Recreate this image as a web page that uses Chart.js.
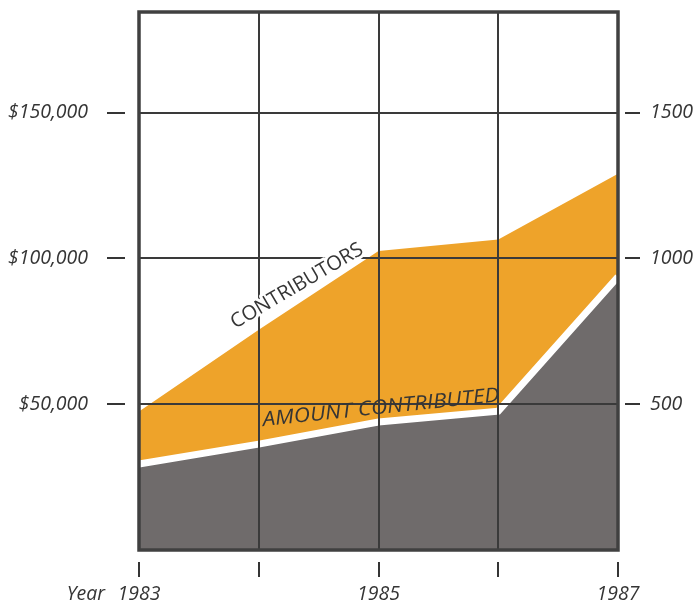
<!DOCTYPE html>
<html><head><meta charset="utf-8">
<script src="https://cdn.jsdelivr.net/npm/chart.js@4.4.0/dist/chart.umd.min.js"></script>
<style>html,body{margin:0;padding:0;background:#fff;overflow:hidden}#wrap{width:695px;height:604px}</style>
</head><body><div id="wrap"><canvas id="c" width="695" height="604"></canvas></div>
<script>
// ---- data ----
const years = ['1983', '1984', '1985', '1986', '1987'];
const yearLabels = ['1983', '', '1985', '', '1987'];
const amountContributed = [29500, 36300, 43900, 47600, 93700];   // dollars (left axis)
const contributors = [475, 755, 1025, 1065, 1290];                 // people (right axis)
const dollarTicks = [50000, 100000, 150000];
const dollarTickLabels = ['$50,000', '$100,000', '$150,000'];
const contributorTicks = [500, 1000, 1500];
const contributorTickLabels = ['500', '1000', '1500'];
const dollarMax = 184500;
const contributorMax = 1845;

const ORANGE = '#eea32a';
const GRAY = '#6f6b6b';
const INK = '#353535';
const GRID = '#3a3a3a';
const tickFont = { family: "'Open Sans', sans-serif", size: 19.5, style: 'italic' };

function drawFitted(ctx, text, cx, cy, angleDeg, targetW, font, halo) {
  ctx.save();
  ctx.font = font;
  ctx.textAlign = 'center';
  ctx.textBaseline = 'middle';
  const w = ctx.measureText(text).width;
  ctx.translate(cx, cy);
  ctx.rotate(angleDeg * Math.PI / 180);
  ctx.scale(targetW / w, 1);
  if (halo) {
    ctx.strokeStyle = '#fff';
    ctx.lineWidth = 6;
    ctx.lineJoin = 'round';
    ctx.strokeText(text, 0, 0);
  }
  ctx.fillStyle = INK;
  ctx.fillText(text, 0, 0);
  ctx.restore();
}

const extras = {
  id: 'extras',
  afterDraw(chart) {
    const ctx = chart.ctx, a = chart.chartArea;
    const xs = chart.scales.x, ys = chart.scales.y, y1 = chart.scales.y1;
    ctx.save();
    // frame
    ctx.strokeStyle = '#404040';
    ctx.lineWidth = 3.5;
    ctx.strokeRect(a.left, a.top, a.right - a.left, a.bottom - a.top);
    // detached tick dashes
    ctx.strokeStyle = INK;
    ctx.lineWidth = 2;
    ctx.beginPath();
    dollarTicks.forEach(v => { const y = Math.round(ys.getPixelForValue(v)); ctx.moveTo(a.left - 32, y); ctx.lineTo(a.left - 14, y); });
    contributorTicks.forEach(v => { const y = Math.round(y1.getPixelForValue(v)); ctx.moveTo(a.right + 7, y); ctx.lineTo(a.right + 22, y); });
    years.forEach((_, i) => { const x = Math.round(xs.getPixelForValue(i)); ctx.moveTo(x, a.bottom + 12); ctx.lineTo(x, a.bottom + 27); });
    ctx.stroke();
    // "Year"
    ctx.fillStyle = INK;
    ctx.font = "italic 19.5px 'Open Sans', sans-serif";
    ctx.textAlign = 'right';
    ctx.textBaseline = 'middle';
    ctx.fillText('Year', xs.getPixelForValue(0) - 34, a.bottom + 33 + 11.7);
    ctx.restore();
    // series annotations
    drawFitted(ctx, 'CONTRIBUTORS', 297, 286, -30.5, 150, "20px 'Open Sans', sans-serif", true);
    drawFitted(ctx, 'AMOUNT CONTRIBUTED', 381, 408, -6, 238, "italic 20px 'Open Sans', sans-serif", false);
  }
};

new Chart(document.getElementById('c'), {
  type: 'line',
  data: {
    labels: years,
    datasets: [
      { label: 'Amount contributed', data: amountContributed, yAxisID: 'y', fill: 'origin',
        backgroundColor: GRAY, borderColor: '#ffffff', borderWidth: 7, pointRadius: 0, tension: 0, order: 1 },
      { label: 'Contributors', data: contributors, yAxisID: 'y1', fill: 'origin',
        backgroundColor: ORANGE, borderWidth: 0, borderColor: ORANGE, pointRadius: 0, tension: 0, order: 2 }
    ]
  },
  options: {
    responsive: false,
    devicePixelRatio: 1,
    animation: false,
    layout: { padding: { top: 12, left: 0, right: 0, bottom: 0 } },
    plugins: { legend: { display: false }, tooltip: { enabled: false } },
    scales: {
      x: {
        type: 'category', offset: false,
        grid: { color: GRID, lineWidth: 2, drawTicks: false, z: 1 },
        border: { display: false },
        ticks: { callback: (v, i) => yearLabels[i], autoSkip: false, maxRotation: 0, padding: 33, font: tickFont, color: INK },
        afterFit: s => { s.height = 54; s.paddingLeft = 0; s.paddingRight = 0; }
      },
      y: {
        position: 'left', min: 0, max: dollarMax,
        afterBuildTicks: s => { s.ticks = dollarTicks.map(v => ({ value: v })); },
        ticks: { callback: v => dollarTickLabels[dollarTicks.indexOf(v)], padding: 51, font: tickFont, color: INK },
        grid: { color: GRID, lineWidth: 2, drawTicks: false, z: 1 },
        border: { display: false },
        afterFit: s => { s.width = 139; s.paddingTop = 0; s.paddingBottom = 0; }
      },
      y1: {
        position: 'right', min: 0, max: contributorMax,
        afterBuildTicks: s => { s.ticks = contributorTicks.map(v => ({ value: v })); },
        ticks: { callback: v => contributorTickLabels[contributorTicks.indexOf(v)], padding: 32, font: tickFont, color: INK },
        grid: { drawOnChartArea: false, drawTicks: false },
        border: { display: false },
        afterFit: s => { s.width = 77; s.paddingTop = 0; s.paddingBottom = 0; }
      }
    }
  },
  plugins: [extras]
});
</script>
</body></html>
